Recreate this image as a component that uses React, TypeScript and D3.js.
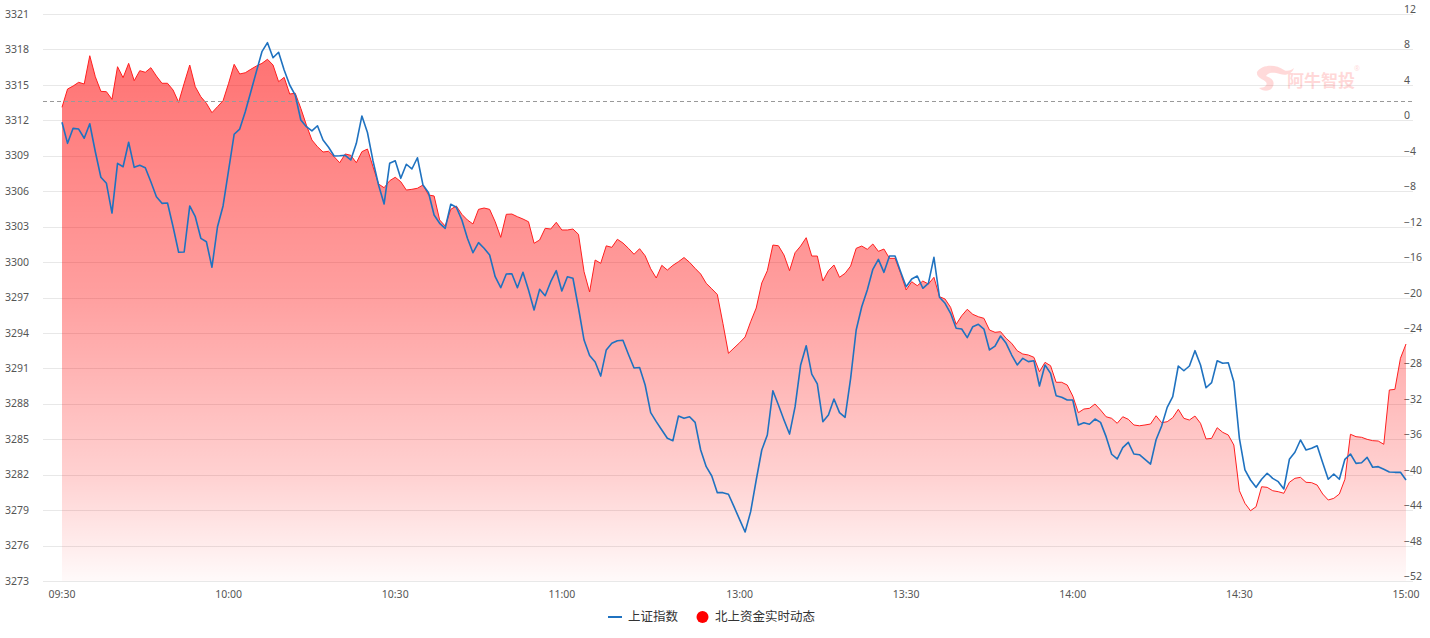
import React from "react";
import * as d3 from "d3";

// ---- data ----
const timeLabels = ["09:30", "10:00", "10:30", "11:00", "13:00", "13:30", "14:00", "14:30", "15:00"];
const timeLabelIndex = [0, 30, 60, 90, 122, 152, 182, 212, 242];
const leftTicks = [3273, 3276, 3279, 3282, 3285, 3288, 3291, 3294, 3297, 3300, 3303, 3306, 3309, 3312, 3315, 3318, 3321];
const rightTicks = [-52, -48, -44, -40, -36, -32, -28, -24, -20, -16, -12, -8, -4, 0, 4, 8, 12];
const prevClose = 3313.63;
const legendNames = ["上证指数", "北上资金实时动态"];

const indexValues = [
  3311.83, 3310.05, 3311.32, 3311.26, 3310.48, 3311.71, 3309.34, 3307.18, 3306.67, 3304.15,
  3308.36, 3308.07, 3310.14, 3308.02, 3308.19, 3307.99, 3306.8, 3305.53, 3304.97, 3305.0,
  3302.99, 3300.83, 3300.85, 3304.75, 3303.84, 3302.01, 3301.72, 3299.56, 3302.99, 3304.75,
  3307.79, 3310.82, 3311.26, 3312.73, 3314.42, 3316.12, 3317.81, 3318.57, 3317.3, 3317.76,
  3316.26, 3314.99, 3314.14, 3312.03, 3311.46, 3311.1, 3311.54, 3310.33, 3309.72, 3308.98,
  3309.0, 3309.04, 3308.64, 3310.05, 3312.37, 3310.97, 3308.56, 3306.52, 3304.92, 3308.36,
  3308.58, 3307.09, 3308.28, 3307.88, 3308.83, 3306.52, 3305.87, 3303.98, 3303.28, 3302.86,
  3304.89, 3304.64, 3303.56, 3302.01, 3300.79, 3301.64, 3301.17, 3300.6, 3298.76, 3297.83,
  3298.99, 3299.01, 3297.83, 3299.13, 3297.63, 3295.94, 3297.69, 3297.15, 3298.34, 3299.27,
  3297.55, 3298.76, 3298.63, 3296.11, 3293.4, 3292.09, 3291.54, 3290.35, 3292.56, 3293.12,
  3293.34, 3293.38, 3292.17, 3291.03, 3291.07, 3289.59, 3287.25, 3286.49, 3285.78, 3285.08,
  3284.88, 3286.97, 3286.77, 3286.91, 3286.43, 3284.09, 3282.68, 3281.89, 3280.48, 3280.48,
  3280.34, 3279.29, 3278.22, 3277.15, 3278.87, 3281.55, 3284.09, 3285.36, 3289.11, 3287.9,
  3286.63, 3285.44, 3287.76, 3291.29, 3292.92, 3290.52, 3289.68, 3286.49, 3287.05, 3288.41,
  3287.25, 3286.86, 3290.16, 3294.25, 3296.22, 3297.63, 3299.39, 3300.23, 3299.13, 3300.51,
  3300.51, 3299.18, 3297.91, 3298.57, 3298.82, 3297.78, 3298.2, 3300.4, 3297.02, 3296.51,
  3295.66, 3294.39, 3294.33, 3293.6, 3294.53, 3294.73, 3294.33, 3292.56, 3292.89, 3293.74,
  3293.12, 3292.13, 3291.29, 3291.85, 3291.57, 3291.65, 3289.51, 3291.29, 3290.58, 3288.69,
  3288.55, 3288.32, 3288.32, 3286.21, 3286.4, 3286.27, 3286.71, 3286.43, 3285.22, 3283.73,
  3283.33, 3284.29, 3284.74, 3283.75, 3283.69, 3283.3, 3282.9, 3284.96, 3286.12, 3287.7,
  3288.6, 3291.2, 3290.8, 3291.2, 3292.5, 3291.29, 3289.36, 3289.79, 3291.65, 3291.43,
  3291.48, 3289.87, 3285.08, 3282.4, 3281.55, 3280.93, 3281.61, 3282.12, 3281.69, 3281.41,
  3280.79, 3283.3, 3283.9, 3284.94, 3284.09, 3284.23, 3284.45, 3283.01, 3281.61, 3282.06,
  3281.61, 3283.3, 3283.75, 3282.96, 3283.01, 3283.47, 3282.63, 3282.68, 3282.46, 3282.23,
  3282.2, 3282.2, 3281.55,
];

const flowValues = [
  1.47, 3.53, 3.87, 4.29, 4.1, 7.29, 4.92, 3.27, 3.23, 2.37,
  6.05, 4.81, 6.43, 4.47, 5.6, 5.42, 5.94, 5.0, 4.18, 4.18,
  3.42, 2.03, 4.18, 6.24, 3.79, 2.66, 1.92, 0.86, 1.54, 2.21,
  4.18, 6.32, 5.23, 5.37, 5.76, 6.13, 6.43, 6.89, 6.24, 4.36,
  4.85, 2.97, 3.05, 1.36, -0.53, -2.22, -2.98, -3.58, -3.5, -4.11,
  -4.79, -3.8, -3.95, -4.79, -3.54, -3.24, -5.24, -7.19, -7.61, -6.82,
  -6.43, -6.93, -7.87, -7.79, -7.67, -7.3, -8.43, -8.54, -11.25, -11.93,
  -10.05, -9.67, -10.61, -11.25, -11.7, -10.05, -9.9, -10.05, -11.45, -13.21,
  -10.61, -10.58, -10.88, -11.14, -11.45, -13.88, -13.51, -12.19, -12.27, -11.51,
  -12.38, -12.38, -12.27, -12.87, -17.09, -19.38, -15.77, -16.14, -14.17, -14.34,
  -13.43, -13.85, -14.45, -15.12, -14.49, -15.29, -16.76, -17.8, -16.37, -16.9,
  -16.37, -15.96, -15.49, -16.03, -16.71, -17.35, -18.4, -19.02, -19.66, -22.91,
  -26.3, -25.7, -25.11, -24.46, -22.73, -21.19, -18.36, -16.98, -14.08, -14.16,
  -15.2, -16.98, -14.94, -14.19, -13.25, -15.32, -15.32, -18.14, -16.98, -16.33,
  -17.72, -17.27, -16.45, -14.45, -14.19, -14.56, -13.96, -14.79, -14.53, -15.58,
  -15.58, -17.27, -19.15, -18.22, -18.67, -18.14, -18.48, -17.72, -19.91, -20.17,
  -21.11, -23.03, -22.06, -21.33, -21.9, -22.17, -22.35, -23.67, -23.93, -23.86,
  -24.61, -25.17, -26.01, -26.38, -26.49, -26.75, -28.38, -27.32, -27.7, -29.57,
  -29.57, -29.88, -31.12, -33.0, -32.59, -32.51, -32.02, -32.7, -33.46, -33.64,
  -34.2, -33.46, -33.75, -34.39, -34.48, -34.39, -34.28, -33.35, -34.13, -34.02,
  -33.57, -32.62, -33.64, -33.83, -33.38, -34.2, -35.97, -35.9, -34.7, -35.22,
  -35.52, -36.65, -41.81, -43.23, -44.07, -43.62, -41.36, -41.43, -41.81, -41.92,
  -42.1, -40.86, -40.41, -40.3, -40.86, -40.9, -41.17, -42.18, -42.86, -42.67,
  -42.18, -40.52, -35.44, -35.71, -35.78, -36.01, -36.16, -36.2, -36.57, -30.44,
  -30.37, -26.86, -25.25,
];

// ---- layout ----
const W = 1430;
const H = 638;
const TOP = 14;
const BOTTOM = 581;
const X0 = 62;
const X1 = 1406;
const GRID_L = 43;
const GRID_R = 1413;
const FONT = "'Noto Sans', 'Noto Sans CJK SC', sans-serif";

export default function App() {
  const x = d3.scaleLinear().domain([0, indexValues.length - 1]).range([X0, X1]);
  const yL = d3.scaleLinear().domain([leftTicks[0], leftTicks[leftTicks.length - 1]]).range([BOTTOM, TOP]);
  const yR = d3.scaleLinear().domain([rightTicks[0], rightTicks[rightTicks.length - 1]]).range([BOTTOM, TOP]);

  const area = d3
    .area<number>()
    .x((_, i) => x(i))
    .y0(yR(rightTicks[0]))
    .y1((d) => yR(d));
  const flowLine = d3
    .line<number>()
    .x((_, i) => x(i))
    .y((d) => yR(d));
  const idxLine = d3
    .line<number>()
    .x((_, i) => x(i))
    .y((d) => yL(d));

  return (
    <div style={{ position: "fixed", left: 0, top: 0 }}>
      <svg width={W} height={H} style={{ display: "block", fontFamily: FONT }}>
        <defs>
          <linearGradient id="flowGrad" x1="0" y1="0" x2="0" y2="1">
            <stop offset="0" stopColor="#ff0000" stopOpacity={0.55} />
            <stop offset="0.45" stopColor="#ff0000" stopOpacity={0.38} />
            <stop offset="0.8" stopColor="#ff0000" stopOpacity={0.18} />
            <stop offset="1" stopColor="#ff0000" stopOpacity={0.02} />
          </linearGradient>
        </defs>
        <rect x={0} y={0} width={W} height={H} fill="#fff" />

        {/* grid */}
        {leftTicks.map((t) => (
          <line
            key={"g" + t}
            x1={GRID_L}
            x2={GRID_R}
            y1={Math.round(yL(t)) + 0.5}
            y2={Math.round(yL(t)) + 0.5}
            stroke="#e8e8e8"
            strokeWidth={1}
          />
        ))}

        {/* left labels */}
        {leftTicks.map((t) => (
          <text key={"l" + t} x={29} y={yL(t)} dy="0.35em" textAnchor="end" fontSize={10.5} fill="#555">
            {t}
          </text>
        ))}
        {/* right labels */}
        {rightTicks.map((t) => (
          <text key={"r" + t} x={1404} y={yR(t) - 1} textAnchor="start" fontSize={10.5} fill="#555">
            {t < 0 ? "\u2212" + Math.abs(t) : t}
          </text>
        ))}

        {/* area + lines */}
        <path d={area(flowValues) || ""} fill="url(#flowGrad)" />
        <path d={flowLine(flowValues) || ""} fill="none" stroke="#ff1f1f" strokeWidth={1} />

        {/* prev close dashed line */}
        <line
          x1={GRID_L}
          x2={GRID_R}
          y1={Math.round(yL(prevClose)) + 0.5}
          y2={Math.round(yL(prevClose)) + 0.5}
          stroke="#999"
          strokeDasharray="4,3"
          strokeWidth={1}
        />

        <path d={idxLine(indexValues) || ""} fill="none" stroke="#1f72c0" strokeWidth={1.6} strokeLinejoin="round" />

        {/* x labels */}
        {timeLabels.map((t, i) => (
          <text key={"x" + t} x={x(timeLabelIndex[i])} y={594} dy="0.35em" textAnchor="middle" fontSize={10.5} fill="#555">
            {t}
          </text>
        ))}

        {/* watermark */}
        <g opacity={0.18} fill="#ff3030">
          <path d="M1257,72 C1262,64 1276,64 1284,70 C1287,72 1292,70 1294,68 C1292,74 1286,76 1280,74 C1274,72 1268,72 1266,76 C1272,78 1276,82 1272,88 C1269,92 1262,91 1259,88 C1265,88 1268,85 1266,82 C1263,79 1256,78 1257,72 Z" />
          <text x={1287} y={87} fontSize={17} fontWeight="bold" fontFamily="'Noto Sans CJK SC', sans-serif">
            阿牛智投
          </text>
          <text x={1354} y={71} fontSize={7}>
            ®
          </text>
        </g>

        {/* legend */}
        <line x1={608} x2={622} y1={617} y2={617} stroke="#1f72c0" strokeWidth={2} />
        <text x={628} y={617} dy="0.35em" fontSize={12.5} fill="#333" fontFamily="'Noto Sans CJK SC', sans-serif">
          {legendNames[0]}
        </text>
        <circle cx={702.5} cy={617} r={6} fill="#ff0000" />
        <text x={715} y={617} dy="0.35em" fontSize={12.5} fill="#333" fontFamily="'Noto Sans CJK SC', sans-serif">
          {legendNames[1]}
        </text>
      </svg>
    </div>
  );
}
